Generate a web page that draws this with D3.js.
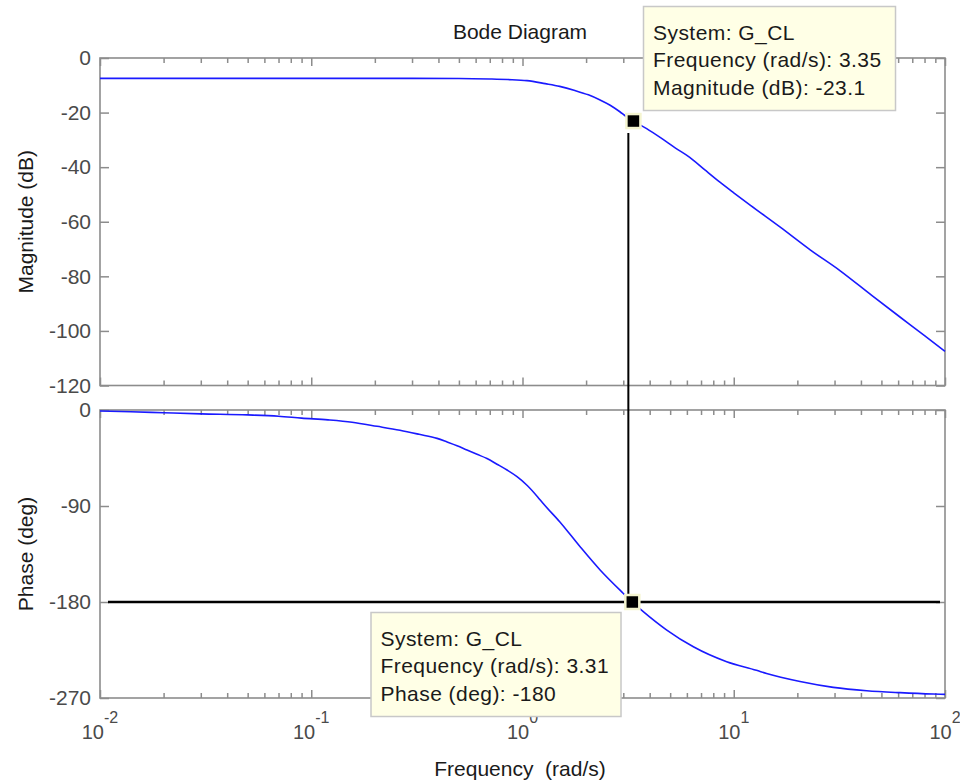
<!DOCTYPE html>
<html><head><meta charset="utf-8">
<script src="https://cdn.jsdelivr.net/npm/d3@7"></script>
<style>body{margin:0;background:#fff}svg{display:block}</style>
</head><body><svg id="c" width="960" height="782"></svg>
<script>
// ---- data ----
const magFreq = [0.01,0.03,0.1,0.3,0.5,0.7,0.85,1.05,1.28,1.5,1.77,2.05,2.33,2.6,2.89,3.1,3.35,3.87,4.5,5.3,6.19,7.3,8.6,10,12,16.6,23,31.8,45,61.2,80,100];
const magDb   = [-7.45,-7.45,-7.45,-7.45,-7.5,-7.7,-7.9,-8.3,-9.4,-10.4,-11.9,-13.5,-15.4,-17.3,-19.7,-21.5,-23.1,-25.9,-29.2,-33,-36.4,-41,-45.5,-49.4,-54,-62,-70.3,-77.9,-87,-94.9,-101.7,-107.5];
const phaseFreq = [0.01,0.014,0.02,0.03,0.05,0.07,0.09,0.12,0.156,0.205,0.263,0.324,0.394,0.44,0.49,0.546,0.609,0.679,0.757,0.845,0.942,1.05,1.18,1.25,1.5,1.87,2.33,2.95,3.31,3.73,4.82,6.44,9.26,12.8,14.3,20.6,29.6,42.6,61.2,88.1,100];
const phaseDeg  = [-1.0,-1.6,-2.6,-3.6,-4.6,-5.8,-7.6,-9.3,-11.5,-15.3,-19.0,-22.8,-26.6,-30.0,-33.5,-37.5,-41.5,-45.5,-50.8,-56.3,-62.5,-70.5,-81.5,-87.5,-104.7,-128,-150,-170.5,-180,-189,-206.3,-222,-236,-244,-247,-254.5,-260,-263.2,-265,-266.3,-266.6];
const magTicks = [0,-20,-40,-60,-80,-100,-120];
const phaseTicks = [0,-90,-180,-270];
const decadeExps = [-2,-1,0,1,2];
const tipSystem = "G_CL";
const tipFreqs = [3.35, 3.31];
const tipValues = [-23.1, -180];
const cursorFreq = 3.17;

// ---- layout ----
const L = 100, R = 945;
const magTop = 58, magBot = 385.5, phTop = 410, phBot = 698;
const axisColor = "#8c8c8c", tickTextColor = "#4a4a4a";
const FONT = "'Liberation Sans', Arial, sans-serif";

const svg = d3.select("#c");
const x = d3.scaleLog().domain([1e-2, 1e2]).range([L, R]);
const yMag = d3.scaleLinear().domain([-120, 0]).range([magBot, magTop]);
const yPh = d3.scaleLinear().domain([-270, 0]).range([phBot, phTop]);

const majors = decadeExps.map(e => Math.pow(10, e));
const minors = [];
decadeExps.slice(0, -1).forEach(e => { for (let k = 2; k <= 9; k++) minors.push(k * Math.pow(10, e)); });

function frame(yScale, top, bot, ticks) {
  const g = svg.append("g");
  [[d3.axisBottom, bot], [d3.axisTop, top]].forEach(([fn, yy]) => {
    g.append("g").attr("transform", `translate(0,${yy})`)
      .call(fn(x).tickValues(minors).tickSize(-5).tickFormat(""));
    g.append("g").attr("transform", `translate(0,${yy})`)
      .call(fn(x).tickValues(majors).tickSize(-8).tickFormat(""));
  });
  g.append("g").attr("transform", `translate(${L},0)`)
    .call(d3.axisLeft(yScale).tickValues(ticks).tickSize(-9).tickPadding(9).tickFormat(d => String(d)));
  g.append("g").attr("transform", `translate(${R},0)`)
    .call(d3.axisRight(yScale).tickValues(ticks).tickSize(-9).tickFormat(""));
  g.selectAll(".domain").remove();
  g.selectAll(".tick line").attr("stroke", axisColor).attr("stroke-width", 1.5);
  g.selectAll(".tick text").attr("fill", tickTextColor).style("font", `21px ${FONT}`);
  g.append("rect").attr("x", L).attr("y", top).attr("width", R - L).attr("height", bot - top)
    .attr("fill", "none").attr("stroke", axisColor).attr("stroke-width", 1.6);
}
frame(yMag, magTop, magBot, magTicks);
frame(yPh, phTop, phBot, phaseTicks);

decadeExps.forEach(e => {
  const t = svg.append("text").attr("x", x(Math.pow(10, e))).attr("y", 739)
    .attr("text-anchor", "middle").attr("fill", tickTextColor).style("font", `20px ${FONT}`);
  t.append("tspan").text("10");
  t.append("tspan").attr("dy", -16).style("font-size", "16px").text(String(e));
});

const lineMag = d3.line().x((d, i) => x(magFreq[i])).y(d => yMag(d)).curve(d3.curveMonotoneX);
const linePh = d3.line().x((d, i) => x(phaseFreq[i])).y(d => yPh(d)).curve(d3.curveMonotoneX);
svg.append("path").attr("d", lineMag(magDb)).attr("fill", "none").attr("stroke", "#1a1aff").attr("stroke-width", 1.6);
svg.append("path").attr("d", linePh(phaseDeg)).attr("fill", "none").attr("stroke", "#1a1aff").attr("stroke-width", 1.6);

// cursor lines
svg.append("line").attr("x1", x(cursorFreq)).attr("x2", x(cursorFreq))
  .attr("y1", yMag(tipValues[0]) + 12).attr("y2", yPh(tipValues[1]))
  .attr("stroke", "#000").attr("stroke-width", 2);
svg.append("line").attr("x1", L + 8).attr("x2", R - 5)
  .attr("y1", yPh(tipValues[1])).attr("y2", yPh(tipValues[1]))
  .attr("stroke", "#000").attr("stroke-width", 2.4);

svg.append("text").attr("x", 520).attr("y", 39).attr("text-anchor", "middle")
  .attr("fill", "#1a1a1a").style("font", `21px ${FONT}`).text("Bode Diagram");
svg.append("text").attr("x", 520).attr("y", 776).attr("text-anchor", "middle")
  .attr("fill", "#1a1a1a").style("font", `21px ${FONT}`).style("white-space", "pre")
  .text("Frequency  (rad/s)");
svg.append("text").attr("transform", `translate(33,${(magTop + magBot) / 2}) rotate(-90)`)
  .attr("text-anchor", "middle").attr("fill", "#1a1a1a").style("font", `21px ${FONT}`).text("Magnitude (dB)");
svg.append("text").attr("transform", `translate(33,${(phTop + phBot) / 2}) rotate(-90)`)
  .attr("text-anchor", "middle").attr("fill", "#1a1a1a").style("font", `21px ${FONT}`).text("Phase (deg)");

function tip(bx, by, bw, bh, lines) {
  const g = svg.append("g");
  g.append("rect").attr("x", bx).attr("y", by).attr("width", bw).attr("height", bh)
    .attr("fill", "#ffffe6").attr("stroke", "#c8c8c8").attr("stroke-width", 1.5);
  lines.forEach((s, i) => g.append("text").attr("x", bx + 9.5).attr("y", by + 33 + i * 27.5)
    .attr("fill", "#1a1a1a").style("font", `21px ${FONT}`).style("letter-spacing", "0.45px").text(s));
}
tip(643.5, 6.5, 252, 104, [`System: ${tipSystem}`, `Frequency (rad/s): ${tipFreqs[0]}`, `Magnitude (dB): ${tipValues[0]}`]);
tip(371, 612.5, 250, 104, [`System: ${tipSystem}`, `Frequency (rad/s): ${tipFreqs[1]}`, `Phase (deg): ${tipValues[1]}`]);

[[x(tipFreqs[0]), yMag(tipValues[0])], [x(tipFreqs[1]), yPh(tipValues[1])]].forEach(([cx, cy]) => {
  svg.append("rect").attr("x", cx - 7).attr("y", cy - 7).attr("width", 14).attr("height", 14)
    .attr("fill", "#000").attr("stroke", "#f5f5d0").attr("stroke-width", 2.5);
});
</script></body></html>
